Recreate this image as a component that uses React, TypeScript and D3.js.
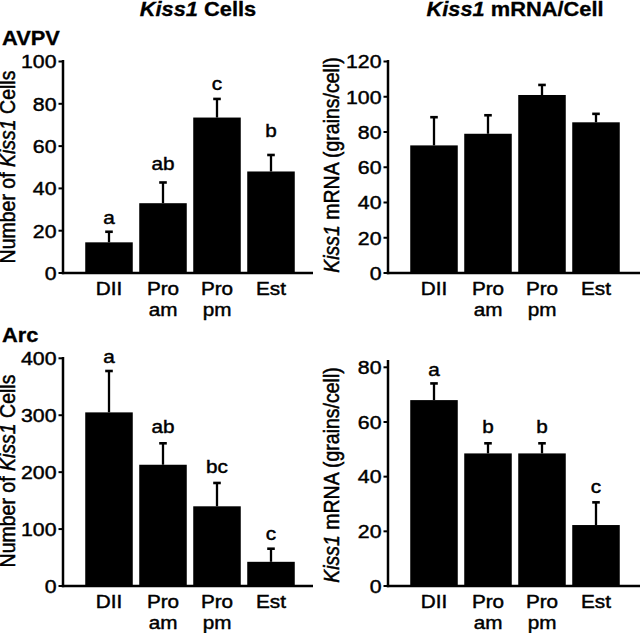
import React from "react";
import * as d3 from "d3";

const categories: string[][] = [["DII"], ["Pro", "am"], ["Pro", "pm"], ["Est"]];

const avpvCells = [14.5, 33, 73.5, 48];
const avpvCellsSem = [5, 9.8, 8.8, 7.8];
const avpvCellsLetters = ["a", "ab", "c", "b"];
const avpvCellsLetterY = [23.2, 48.5, 86.7, 64.3];
const avpvCellsTicks = [0, 20, 40, 60, 80, 100];

const avpvMrna = [72.4, 79, 101, 85.5];
const avpvMrnaSem = [16, 10.5, 5.7, 4.8];
const avpvMrnaTicks = [0, 20, 40, 60, 80, 100, 120];

const arcCells = [305, 213, 140, 42.5];
const arcCellsSem = [72.7, 37.7, 41, 23];
const arcCellsLetters = ["a", "ab", "bc", "c"];
const arcCellsLetterY = [392, 269, 198, 81];
const arcCellsTicks = [0, 100, 200, 300, 400];

const arcMrna = [68, 48.5, 48.5, 22.3];
const arcMrnaSem = [6.1, 3.7, 3.7, 8.3];
const arcMrnaLetters = ["a", "b", "b", "c"];
const arcMrnaLetterY = [76.8, 55.9, 55.9, 33.9];
const arcMrnaTicks = [0, 20, 40, 60, 80];

const FONT = "'Liberation Sans', Arial, Helvetica, sans-serif";
const SX = 1.12;

type PanelProps = {
  values: number[];
  sem: number[];
  letters?: string[];
  letterY?: number[];
  ticks: number[];
  axisX: number;
  xEnd: number;
  yTop: number;
  yBottom: number;
  axisTop: number;
  bandStart: number;
  titleX: number;
  titleY: number;
  titlePre: string;
  titleRest: string;
};

function HText(props: { x: number; y: number; anchor?: string; weight?: string; size?: number; children: React.ReactNode }) {
  const bold = props.weight === "bold";
  return (
    <text
      transform={`translate(${props.x},${props.y}) scale(${SX},1)`}
      textAnchor={props.anchor || "middle"}
      fontFamily={FONT}
      fontSize={props.size || 18.5}
      fontWeight={props.weight || "normal"}
      fill="#000"
      stroke="#000"
      strokeWidth={bold ? 0.3 : 0.45}
    >
      {props.children}
    </text>
  );
}

function Panel(p: PanelProps) {
  const dom = categories.map((c) => c.join(" "));
  const x = d3
    .scaleBand<string>()
    .domain(dom)
    .range([p.bandStart, p.bandStart + 216])
    .paddingInner(0.12)
    .paddingOuter(0.06);
  const yMax = p.ticks[p.ticks.length - 1];
  const y = d3.scaleLinear().domain([0, yMax]).range([p.yBottom, p.yTop]);
  const bw = x.bandwidth();
  const capHalf = 3.8;
  return (
    <g>
      {p.values.map((v, i) => {
        const cx = (x(dom[i]) as number) + bw / 2;
        const top = y(v + p.sem[i]);
        return (
          <g key={"e" + i}>
            <line x1={cx} x2={cx} y1={y(v)} y2={top} stroke="#000" strokeWidth={2.3} />
            <line x1={cx - capHalf} x2={cx + capHalf} y1={top} y2={top} stroke="#000" strokeWidth={2.6} />
          </g>
        );
      })}
      {p.values.map((v, i) => (
        <rect
          key={"b" + i}
          x={x(dom[i]) as number}
          y={y(v)}
          width={bw}
          height={y(0) - y(v)}
          fill="#000"
        />
      ))}
      {p.letters &&
        p.letters.map((l, i) => (
          <HText key={"l" + i} x={(x(dom[i]) as number) + bw / 2} y={y(p.letterY![i])}>
            {l}
          </HText>
        ))}
      <line x1={p.axisX} x2={p.axisX} y1={p.axisTop} y2={y(0) + 1.2} stroke="#000" strokeWidth={2.5} />
      <line x1={p.axisX - 1.2} x2={p.xEnd} y1={y(0)} y2={y(0)} stroke="#000" strokeWidth={2.5} />
      {p.ticks.map((t) => (
        <g key={"t" + t}>
          <line x1={p.axisX - 4.5} x2={p.axisX} y1={y(t)} y2={y(t)} stroke="#000" strokeWidth={2} />
          <HText x={p.axisX - 6.5} y={y(t) + 6.8} anchor="end" size={19}>
            {String(t)}
          </HText>
        </g>
      ))}
      {categories.map((c, i) => (
        <g key={"c" + i}>
          {c.map((line, j) => (
            <HText key={j} x={(x(dom[i]) as number) + bw / 2} y={y(0) + 22 + j * 20.5}>
              {line}
            </HText>
          ))}
        </g>
      ))}
      <text
        transform={`translate(${p.titleX},${p.titleY}) rotate(-90) scale(1,1.1)`}
        textAnchor="middle"
        fontFamily={FONT}
        fontSize={19.5}
        fill="#000"
        stroke="#000"
        strokeWidth={0.45}
      >
        {p.titlePre}
        <tspan fontStyle="italic">Kiss1</tspan>
        {p.titleRest}
      </text>
    </g>
  );
}

export default function App() {
  return (
    <svg width={640} height={633} style={{ display: "block", position: "absolute", left: 0, top: 0 }}>
      <rect width={640} height={633} fill="#fff" />
      <HText x={198} y={16} weight="bold" size={19.5}>
        <tspan fontStyle="italic">Kiss1</tspan> Cells
      </HText>
      <HText x={515} y={16} weight="bold" size={19.5}>
        <tspan fontStyle="italic">Kiss1</tspan> mRNA/Cell
      </HText>
      <HText x={2} y={45} anchor="start" weight="bold" size={19.5}>
        AVPV
      </HText>
      <HText x={2} y={342} anchor="start" weight="bold" size={19.5}>
        Arc
      </HText>
      <Panel
        values={avpvCells}
        sem={avpvCellsSem}
        letters={avpvCellsLetters}
        letterY={avpvCellsLetterY}
        ticks={avpvCellsTicks}
        axisX={63}
        xEnd={313}
        yTop={61.5}
        yBottom={273}
        axisTop={60}
        bandStart={82}
        titleX={15}
        titleY={167}
        titlePre="Number of "
        titleRest=" Cells"
      />
      <Panel
        values={avpvMrna}
        sem={avpvMrnaSem}
        ticks={avpvMrnaTicks}
        axisX={388}
        xEnd={640}
        yTop={61.5}
        yBottom={273}
        axisTop={60}
        bandStart={407}
        titleX={339}
        titleY={165}
        titlePre=""
        titleRest=" mRNA (grains/cell)"
      />
      <Panel
        values={arcCells}
        sem={arcCellsSem}
        letters={arcCellsLetters}
        letterY={arcCellsLetterY}
        ticks={arcCellsTicks}
        axisX={63}
        xEnd={313}
        yTop={358.3}
        yBottom={586}
        axisTop={357}
        bandStart={82}
        titleX={15}
        titleY={471}
        titlePre="Number of "
        titleRest=" Cells"
      />
      <Panel
        values={arcMrna}
        sem={arcMrnaSem}
        letters={arcMrnaLetters}
        letterY={arcMrnaLetterY}
        ticks={arcMrnaTicks}
        axisX={388}
        xEnd={640}
        yTop={367.3}
        yBottom={586}
        axisTop={360}
        bandStart={407}
        titleX={339}
        titleY={475}
        titlePre=""
        titleRest=" mRNA (grains/cell)"
      />
    </svg>
  );
}
